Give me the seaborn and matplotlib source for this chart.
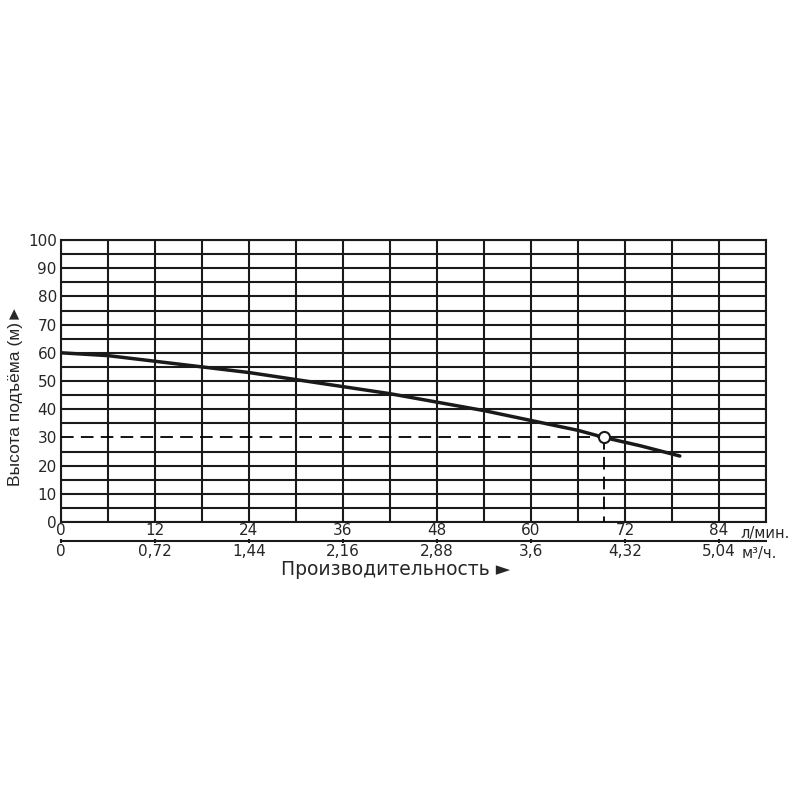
import seaborn as sns
import matplotlib.pyplot as plt
import pandas as pd

# curve
flow = [0, 6, 12, 18, 24, 30, 36, 42, 48, 54, 60, 66, 69.3, 74, 79]
head = [60, 59, 57, 55, 53, 50.5, 48, 45.5, 42.5, 39.5, 36, 32.5, 30, 27, 23.4]
work_flow = 69.3
work_head = 30

top_ticks = [0, 12, 24, 36, 48, 60, 72, 84]
bottom_labels = ['0', '0,72', '1,44', '2,16', '2,88', '3,6', '4,32', '5,04']
y_labels = [0, 10, 20, 30, 40, 50, 60, 70, 80, 90, 100]

sns.set_style("white")
plt.rcParams['font.family'] = ['DejaVu Sans']

fig = plt.figure(figsize=(8, 8), dpi=100)
ax = fig.add_axes([0.07625, 0.3475, 0.88125, 0.3525])

df = pd.DataFrame({'flow': flow, 'head': head})
sns.lineplot(data=df, x='flow', y='head', ax=ax, color='#1a1a1a', linewidth=2.5, zorder=4)

# grid
ax.set_xlim(0, 90)
ax.set_ylim(0, 100)
ax.set_xticks(range(0, 91, 6))
ax.set_xticklabels([str(v) if v in top_ticks else '' for v in range(0, 91, 6)], fontsize=11)
ax.set_yticks(range(0, 101, 5))
ax.set_yticklabels([str(v) if v in y_labels else '' for v in range(0, 101, 5)], fontsize=11)
ax.grid(True, color='#1a1a1a', linewidth=1.5)
ax.tick_params(length=0, pad=1)
ax.tick_params(axis='y', pad=3)
for s in ax.spines.values():
    s.set_color('#1a1a1a')
    s.set_linewidth(1.5)
ax.set_xlabel('')
ax.set_ylabel('')

# grid line at the working head is dashed up to the point, solid after it
ax.yaxis.get_gridlines()[list(range(0, 101, 5)).index(work_head)].set_visible(False)
ax.axhline(work_head, xmin=work_flow / 90, xmax=1, color='#1a1a1a', linewidth=1.5, zorder=0.5)

# working point
ax.plot([0, work_flow], [work_head, work_head], color='black', linewidth=1.3, dashes=(7, 4), zorder=3)
ax.plot([work_flow, work_flow], [work_head, 0], color='black', linewidth=1.3, dashes=(7, 4), zorder=3)
ax.plot(work_flow, work_head, 'o', markersize=8, markerfacecolor='white', markeredgecolor='#1a1a1a',
        markeredgewidth=1.5, zorder=5)

# second axis (m3/h)
sec = ax.secondary_xaxis(-0.067)
sec.set_xticks(top_ticks)
sec.set_xticklabels(bottom_labels, fontsize=11)
sec.tick_params(direction='inout', length=3, width=1.5, pad=1, color='#1a1a1a')
sec.spines['bottom'].set_linewidth(1.5)
sec.spines['bottom'].set_color('#1a1a1a')

ax.text(86.7, -0.04, 'л/мин.', transform=ax.get_xaxis_transform(), fontsize=10.5, va='center', ha='left')
ax.text(86.9, -0.11, 'м³/ч.', transform=ax.get_xaxis_transform(), fontsize=10.5, va='center', ha='left')

fig.text(0.494, 0.288, 'Производительность ►', fontsize=13.5, ha='center', va='center')
fig.text(0.019, 0.506, 'Высота подъёма (м)►', fontsize=12.5, ha='center', va='center', rotation=90,
         family=['Liberation Sans', 'DejaVu Sans'])

fig.savefig('out.png', dpi=100, facecolor='white')
